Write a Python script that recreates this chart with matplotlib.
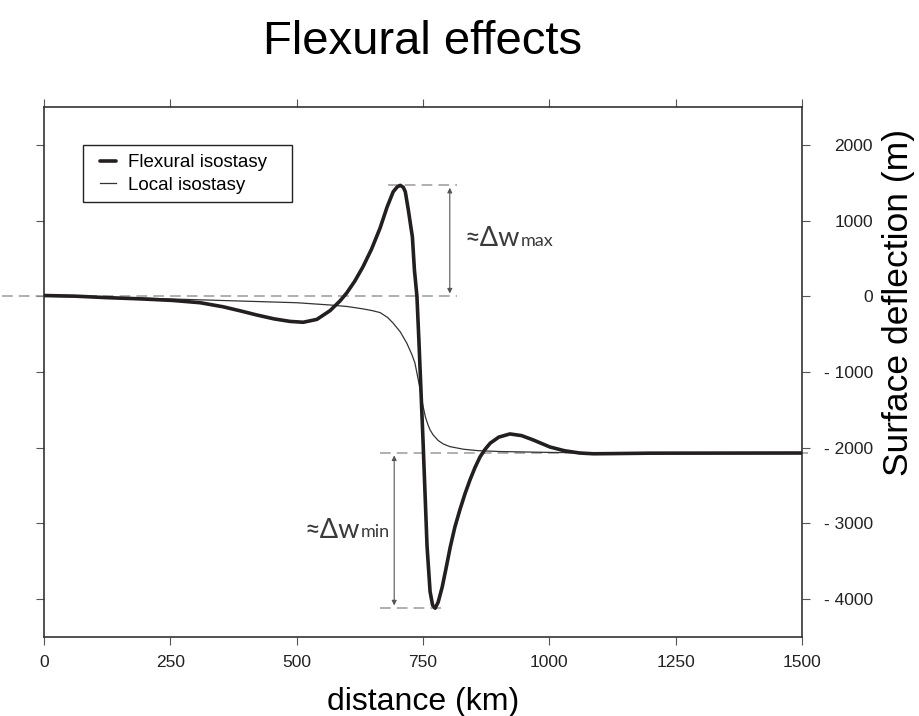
import numpy as np
import matplotlib
matplotlib.use("Agg")
import matplotlib.pyplot as plt
from matplotlib.patches import Rectangle
from matplotlib.ticker import FuncFormatter

plt.rcParams["font.family"] = ["Liberation Sans", "DejaVu Sans"]

# distance (km) and surface deflection (m)
flex_x = [0, 60, 125, 190, 255, 309, 354, 390, 421, 455, 487, 513, 540, 566,
          586, 599, 615, 631, 648, 665, 679, 691, 699, 705, 711, 715, 721, 725,
          729, 733, 738, 742, 746, 750, 754, 758, 764, 769, 774, 780, 788, 796,
          804, 813, 823, 833, 843, 853, 863, 873, 883, 900, 922, 945, 968, 1001,
          1030, 1060, 1087, 1120, 1200, 1500]
flex_y = [10, 2, -18, -34, -55, -85, -138, -195, -247, -298, -332, -343, -305, -190,
          -60, 44, 200, 387, 620, 900, 1180, 1380, 1445, 1465, 1440, 1380, 1140, 960,
          785, 350, 0, -600, -1250, -1900, -2600, -3300, -3900, -4080, -4120, -4040, -3840, -3580,
          -3310, -3050, -2820, -2610, -2425, -2260, -2120, -2020, -1940, -1860, -1818, -1840, -1897, -1990,
          -2040, -2070, -2080, -2078, -2072, -2070]

local_x = [0, 100, 200, 300, 400, 500, 566, 600, 630, 650, 665, 680, 691, 705,
           718, 728, 734, 742, 746, 750, 755, 760, 764, 770, 780, 790, 803, 830,
           857, 900, 1000, 1100, 1500]
local_y = [0, -10, -25, -45, -65, -85, -115, -135, -165, -190, -215, -280, -355, -470,
           -620, -770, -880, -1150, -1300, -1450, -1600, -1700, -1765, -1830, -1905, -1950, -1985, -2020,
           -2038, -2050, -2062, -2068, -2070]

# reference levels for the amplitude markers
w_zero = 0
w_max = 1470
w_far = -2065
w_min = -4120

xticks = [0, 250, 500, 750, 1000, 1250, 1500]
yticks = [-4000, -3000, -2000, -1000, 0, 1000, 2000]

fig = plt.figure(figsize=(9.2, 7.16), dpi=100)
ax = fig.add_axes([44 / 920, 79 / 716, 758 / 920, 530 / 716])

ax.plot(local_x, local_y, color="#333333", lw=0.9, label="Local isostasy", zorder=3)
ax.plot(flex_x, flex_y, color="#231f20", lw=2.6, label="Flexural isostasy",
        solid_capstyle="round", solid_joinstyle="round", zorder=4)

dash = dict(color="#9a9a9a", lw=1.1, dashes=(7, 4), clip_on=False, zorder=2)
ax.plot([-84, 818], [w_zero, w_zero], **dash)
ax.plot([680, 818], [w_max, w_max], **dash)
ax.plot([665, 1512], [w_far, w_far], **dash)
ax.plot([665, 798], [w_min, w_min], **dash)

arr = dict(arrowstyle="<|-|>", color="#555555", lw=0.8, mutation_scale=7,
           shrinkA=2, shrinkB=2)
ax.annotate("", xy=(803, w_zero), xytext=(803, w_max), arrowprops=arr)
ax.annotate("", xy=(693, w_min), xytext=(693, w_far), arrowprops=arr)

t1 = ax.text(833, 760, "≈Δw", fontsize=19.5, family=["Lato", "DejaVu Sans"],
             color="#3a3a3a", va="center", ha="left")
ax.annotate("max", xy=(1, 0.1), xycoords=t1, fontsize=13,
            family=["Lato", "DejaVu Sans"], color="#3a3a3a", va="bottom", ha="left")
t2 = ax.text(626, -3090, "≈Δw", fontsize=19.5, family=["Lato", "DejaVu Sans"],
             color="#3a3a3a", va="center", ha="right")
ax.annotate("min", xy=(1, 0.1), xycoords=t2, fontsize=13,
            family=["Lato", "DejaVu Sans"], color="#3a3a3a", va="bottom", ha="left")

ax.set_xlim(0, 1500)
ax.set_ylim(-4500, 2500)
ax.set_xticks(xticks)
ax.set_yticks(yticks)
ax.yaxis.set_major_formatter(
    FuncFormatter(lambda v, p: f"- {abs(int(v))}" if v < 0 else f"{int(v)}"))

ax.tick_params(axis="both", direction="out", length=6, width=0.8, color="#555555",
               top=True, left=True, right=True, bottom=True,
               labelleft=False, labelright=True, labeltop=False, labelsize=12.5,
               labelcolor="#222222")
ax.tick_params(axis="x", pad=7)
ax.tick_params(axis="y", pad=45)
for lab in ax.get_yticklabels():
    lab.set_ha("right")

for s in ax.spines.values():
    s.set_linewidth(1.2)
    s.set_color("#333333")

ax.set_xlabel("distance (km)", fontsize=23, labelpad=12)
ax.yaxis.set_label_position("right")
ax.set_ylabel("Surface deflection (m)", fontsize=25.5)
ax.yaxis.set_label_coords(1.106, 0.632)

# legend box drawn separately (wider than the entries, as in the original)
ax.add_patch(Rectangle((39 / 758, 435 / 530), 209 / 758, 57 / 530,
                       transform=ax.transAxes, fill=False, ec="#222222", lw=1.0,
                       zorder=5))
ax.legend(handles=ax.get_lines()[1::-1], loc="upper left",
          bbox_to_anchor=(56 / 758, 483 / 530), borderaxespad=0, borderpad=0,
          fontsize=13.5, frameon=False, handlelength=0.85,
          handletextpad=0.65, labelspacing=0.3)

fig.text(423 / 920, 1 - 42 / 716, "Flexural effects", fontsize=34,
         ha="center", va="center")

fig.savefig("out.png", dpi=100)
